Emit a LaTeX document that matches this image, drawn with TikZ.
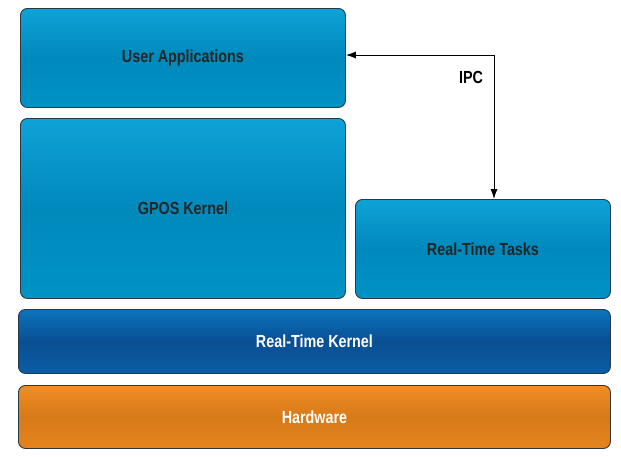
\documentclass[tikz,border=0pt]{standalone}
\usepackage{fontspec}
\setmainfont{Liberation Sans}
\usetikzlibrary{arrows.meta}
\definecolor{lbTop}{HTML}{0FA2D6}
\definecolor{lbMid}{HTML}{0089BC}
\definecolor{lbBot}{HTML}{0093C6}
\definecolor{dbTop}{HTML}{0A74BE}
\definecolor{dbMid}{HTML}{0A4E92}
\definecolor{dbBot}{HTML}{0A5EA6}
\definecolor{orTop}{HTML}{F28D24}
\definecolor{orMid}{HTML}{D67A18}
\definecolor{orBot}{HTML}{E6841E}
\definecolor{edge}{HTML}{2A3A44}
\tikzset{
  lblfont/.style={font=\fontsize{17.5}{20}\selectfont\bfseries},
  layer/.style={draw=edge, line width=0.9pt, rounded corners=7pt, inner sep=0pt, lblfont},
  lightbox/.style={layer, top color=lbTop, bottom color=lbBot, middle color=lbMid, text=black!85},
  kernelbox/.style={layer, top color=dbTop, bottom color=dbBot, middle color=dbMid, text=white},
  hwbox/.style={layer, top color=orTop, bottom color=orBot, middle color=orMid, text=white},
  conn/.style={draw=black, line width=0.9pt, -{Latex[length=10pt,width=7pt]}},
}
\newcommand{\lbl}[1]{\scalebox{0.82}[1]{#1}}
\begin{document}
\begin{tikzpicture}[x=1pt,y=-1pt]
\useasboundingbox (0,0) rectangle (621,456);
\node[lightbox, minimum width=325pt, minimum height=99pt, anchor=north west] (ua) at (20,8) {\lbl{User Applications}};
\node[lightbox, minimum width=325pt, minimum height=180pt, anchor=north west] (gpos) at (20,118) {\lbl{GPOS Kernel}};
\node[lightbox, minimum width=255pt, minimum height=99pt, anchor=north west] (rtt) at (355,199) {\lbl{Real-Time Tasks}};
\node[kernelbox, minimum width=592pt, minimum height=64pt, anchor=north west] (rtk) at (18,309) {\lbl{Real-Time Kernel}};
\node[hwbox, minimum width=592pt, minimum height=63pt, anchor=north west] (hw) at (18,385) {\lbl{Hardware}};
\coordinate (bend) at (494,55);
\draw[conn] (bend) -- (ua.east |- bend);
\draw[conn] (bend) -- (bend |- rtt.north);
\node[lblfont, anchor=center] (ipc) at (471,77) {\lbl{IPC}};
\end{tikzpicture}
\end{document}
